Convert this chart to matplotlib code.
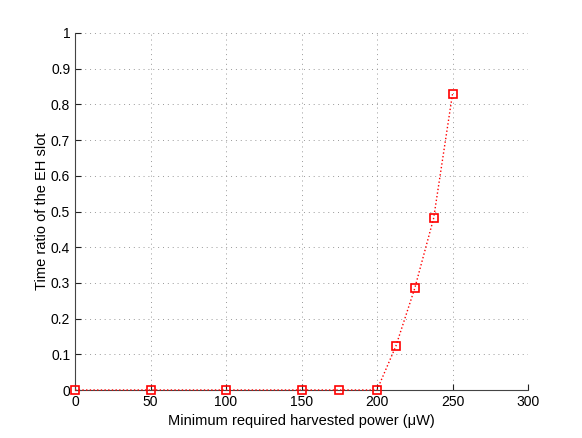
import matplotlib
matplotlib.use("Agg")
import matplotlib.pyplot as plt

plt.rcParams['font.family'] = ['Liberation Sans', 'DejaVu Sans']

power = [0, 50, 100, 150, 175, 200, 212.5, 225, 237.5, 250]
ratio = [0, 0, 0, 0, 0, 0, 0.123, 0.285, 0.481, 0.829]
xticks = [0, 50, 100, 150, 200, 250, 300]
yticks = [0, 0.1, 0.2, 0.3, 0.4, 0.5, 0.6, 0.7, 0.8, 0.9, 1]
yticklabels = ['0', '0.1', '0.2', '0.3', '0.4', '0.5', '0.6', '0.7', '0.8', '0.9', '1']

fig = plt.figure(figsize=(5.82, 4.38), dpi=100)
ax = fig.add_axes([75/582, 48/438, 453/582, 357/438])
ax.plot(power, ratio, color='red', linestyle=':', linewidth=1,
        marker='s', markersize=6, markerfacecolor='none', markeredgecolor='red',
        markeredgewidth=1.2, clip_on=False, zorder=5)
ax.set_xlim(0, 300)
ax.set_ylim(0, 1)
ax.set_xticks(xticks)
ax.set_yticks(yticks)
ax.set_yticklabels(yticklabels)
ax.grid(True, linestyle=(0, (1, 4)), color='#999999', linewidth=0.7)
for s in ['top', 'right']:
    ax.spines[s].set_visible(False)
for s in ['left', 'bottom']:
    ax.spines[s].set_color('#444444')
    ax.spines[s].set_linewidth(0.8)
ax.tick_params(direction='in', length=4, width=0.8, labelsize=10, colors='#222222',
               labelcolor='black')
ax.set_xlabel('Minimum required harvested power (\u03bcW)', fontsize=10.5)
ax.set_ylabel('Time ratio of the EH slot', fontsize=10.5, labelpad=1)
fig.savefig('out.png', dpi=100)
